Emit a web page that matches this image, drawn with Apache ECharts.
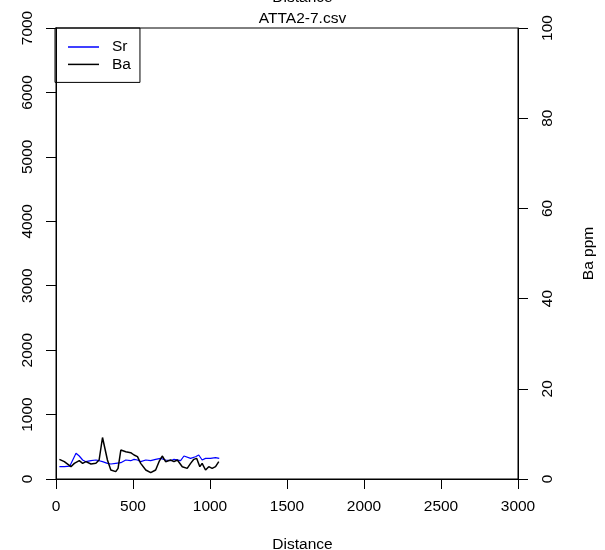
<!DOCTYPE html>
<html><head><meta charset="utf-8">
<script src="https://cdn.jsdelivr.net/npm/echarts@6/dist/echarts.min.js"></script>
<style>html,body{margin:0;padding:0;background:#fff}#c{width:605px;height:550px}</style>
</head><body><div id="c"></div>
<script>
const title = "ATTA2-7.csv";
const xTicks = [0, 500, 1000, 1500, 2000, 2500, 3000];
const leftTicks = [0, 1000, 2000, 3000, 4000, 5000, 6000, 7000];
const rightTicks = [0, 20, 40, 60, 80, 100];
const srDist = [22, 54, 90, 108, 130, 151, 173, 194, 227, 259, 280, 302, 334, 356, 388, 421, 453, 485, 507, 529, 550, 583, 615, 647, 679, 712, 744, 766, 809, 831, 874, 906, 927, 949, 971, 1003, 1036, 1060];
const srVals = [191, 191, 200, 290, 399, 357, 295, 269, 284, 295, 284, 269, 243, 233, 243, 253, 295, 284, 305, 295, 269, 295, 284, 305, 320, 295, 284, 305, 284, 357, 320, 346, 372, 295, 320, 320, 331, 320];
const baDist = [22, 54, 97, 119, 151, 173, 194, 227, 259, 280, 302, 308, 334, 356, 388, 403, 421, 453, 485, 507, 529, 550, 583, 615, 647, 669, 690, 712, 744, 766, 788, 820, 852, 874, 895, 913, 934, 949, 971, 992, 1014, 1036, 1057];
const baVals = [4.36, 3.84, 2.73, 3.47, 4.06, 3.47, 3.84, 3.33, 3.47, 4.21, 9.2, 9.01, 4.21, 2.0, 1.63, 2.36, 6.43, 6.06, 5.84, 5.32, 4.95, 3.47, 2.0, 1.40, 2.0, 3.84, 5.1, 3.84, 4.21, 3.84, 4.21, 2.73, 2.36, 3.47, 4.36, 4.58, 2.73, 3.47, 2.0, 2.73, 2.36, 2.73, 3.84];

const FONT = "Liberation Sans, Arial, sans-serif";
const FS = 15.5;
const chart = echarts.init(document.getElementById('c'), null, {renderer: 'canvas'});
const plain = v => String(v);
const axisCommon = {
  axisLine: {show: true, lineStyle: {color: '#000', width: 1}},
  axisTick: {show: true, inside: false, length: 10, lineStyle: {color: '#000', width: 1}},
  splitLine: {show: false}
};
chart.setOption({
  animation: false,
  backgroundColor: '#fff',
  grid: {left: 56, right: 86, top: 28, bottom: 71, show: true, borderColor: '#000', borderWidth: 1, containLabel: false},
  title: {text: title, left: 'center', top: 6, textStyle: {fontFamily: FONT, fontSize: FS, fontWeight: 'normal', color: '#000'}},
  graphic: [
    {type: 'text', left: 'center', top: -10, style: {text: 'Distance', font: FS + 'px ' + FONT, fill: '#000'}},
    {type: 'text', left: 'center', top: 537, style: {text: 'Distance', font: FS + 'px ' + FONT, fill: '#000'}}
  ],
  legend: {
    left: 55, top: 28, orient: 'vertical',
    borderColor: '#000', borderWidth: 1, borderRadius: 0,
    padding: [11, 9, 10, 13], itemGap: 1.4,
    itemWidth: 31, itemHeight: 1.5,
    icon: 'rect',
    textStyle: {fontFamily: FONT, fontSize: FS, color: '#000', lineHeight: 16, padding: [0, 0, 0, 8]},
    data: ['Sr', 'Ba']
  },
  xAxis: Object.assign({}, axisCommon, {
    type: 'value', min: xTicks[0], max: xTicks[xTicks.length - 1], interval: 500,
    axisLabel: {color: '#000', fontFamily: FONT, fontSize: FS, margin: 20, formatter: plain, showMinLabel: true, showMaxLabel: true}
  }),
  yAxis: [
    Object.assign({}, axisCommon, {
      type: 'value', position: 'left', min: leftTicks[0], max: leftTicks[leftTicks.length - 1], interval: 1000,
      axisLabel: {color: '#000', fontFamily: FONT, fontSize: FS, rotate: 90, margin: 20, formatter: plain}
    }),
    Object.assign({}, axisCommon, {
      type: 'value', position: 'right', min: rightTicks[0], max: rightTicks[rightTicks.length - 1], interval: 20,
      name: 'Ba ppm', nameLocation: 'middle', nameRotate: 90, nameGap: 63,
      nameTextStyle: {color: '#000', fontFamily: FONT, fontSize: FS},
      axisLabel: {color: '#000', fontFamily: FONT, fontSize: FS, rotate: 90, margin: 22, formatter: plain}
    })
  ],
  series: [
    {name: 'Sr', type: 'line', yAxisIndex: 0, showSymbol: false, symbol: 'none',
     lineStyle: {color: '#0000ff', width: 1.2}, itemStyle: {color: '#0000ff'},
     data: srDist.map((d, i) => [d, srVals[i]])},
    {name: 'Ba', type: 'line', yAxisIndex: 1, showSymbol: false, symbol: 'none',
     lineStyle: {color: '#000', width: 1.5}, itemStyle: {color: '#000'},
     data: baDist.map((d, i) => [d, baVals[i]])}
  ]
});
</script></body></html>
